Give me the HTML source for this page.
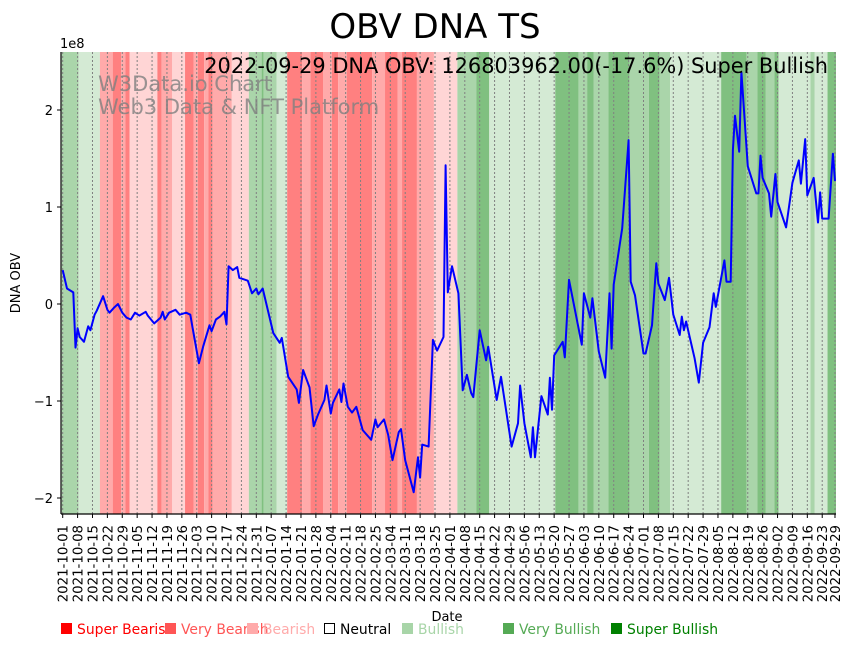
<!DOCTYPE html>
<html><head><meta charset="utf-8"><style>
html,body{margin:0;padding:0;background:#fff;}
svg{display:block;font-family:"DejaVu Sans","Liberation Sans",sans-serif;}
</style></head><body>
<svg id="chart" width="854" height="646" viewBox="0 0 854 646">
<g id="bands"></g>
<g id="grid"></g>
<text x="98" y="91" font-size="21" fill="#808080" fill-opacity="0.8">W3Data.io Chart</text>
<text x="98" y="114" font-size="21" fill="#808080" fill-opacity="0.8">Web3 Data &amp; NFT Platform</text>
<g id="series"></g>
<g id="axes"></g>
<text x="435" y="38" font-size="34" text-anchor="middle" fill="#000">OBV DNA TS</text>
<text x="828" y="73" font-size="20.9" text-anchor="end" fill="#000">2022-09-29 DNA OBV: 126803962.00(-17.6%) Super Bullish</text>
<text x="60" y="48" font-size="13" fill="#000">1e8</text>
<text transform="translate(20,283) rotate(-90)" font-size="13" text-anchor="middle" fill="#000">DNA OBV</text>
<text x="447" y="621" font-size="13" text-anchor="middle" fill="#000">Date</text>
<g id="legend" font-size="13.9"></g>
</svg>
<script>
// ---- data ----
const startDate = "2021-10-01";
const obvDays = [0,2,5,6,7,8,10,12,13,15,16,19,21,22,24,26,28,30,32,34,36,39,40,43,46,47,48,50,53,55,58,60,61,64,66,69,70,72,74,76,77,78,80,82,83,87,89,91,92,94,99,102,103,106,110,111,113,116,118,120,123,124,126,127,130,131,132,134,136,138,141,145,147,148,151,153,155,158,159,161,165,167,168,169,172,174,176,179,180,181,183,186,188,190,192,193,196,199,200,204,206,211,214,215,217,220,221,222,225,228,229,230,231,235,236,238,244,245,248,249,252,255,257,258,259,263,266,267,269,273,274,277,279,280,283,285,287,290,291,292,293,297,299,301,304,306,307,311,312,314,315,316,318,319,322,326,327,328,329,332,333,335,336,340,343,346,347,349,350,353,355,356,357,360,362,363];
const obvValues = [0.35,0.16,0.12,-0.45,-0.25,-0.34,-0.39,-0.23,-0.27,-0.11,-0.07,0.08,-0.06,-0.09,-0.04,0.0,-0.09,-0.14,-0.16,-0.09,-0.12,-0.08,-0.12,-0.2,-0.14,-0.08,-0.16,-0.09,-0.06,-0.11,-0.09,-0.11,-0.24,-0.61,-0.44,-0.22,-0.28,-0.16,-0.13,-0.08,-0.21,0.39,0.35,0.38,0.27,0.24,0.11,0.16,0.10,0.16,-0.3,-0.4,-0.35,-0.75,-0.88,-1.02,-0.68,-0.86,-1.26,-1.14,-0.99,-0.84,-1.13,-1.02,-0.88,-1.01,-0.82,-1.06,-1.12,-1.06,-1.3,-1.4,-1.19,-1.27,-1.19,-1.35,-1.61,-1.32,-1.29,-1.61,-1.94,-1.58,-1.79,-1.45,-1.47,-0.37,-0.48,-0.34,1.43,0.12,0.39,0.11,-0.89,-0.73,-0.92,-0.96,-0.27,-0.58,-0.44,-0.99,-0.75,-1.47,-1.23,-0.84,-1.23,-1.58,-1.27,-1.58,-0.95,-1.14,-0.76,-1.09,-0.53,-0.39,-0.55,0.25,-0.42,0.11,-0.14,0.06,-0.49,-0.76,0.11,-0.46,0.2,0.78,1.69,0.23,0.09,-0.51,-0.51,-0.22,0.42,0.21,0.04,0.27,-0.11,-0.32,-0.13,-0.27,-0.18,-0.56,-0.81,-0.4,-0.24,0.11,-0.03,0.45,0.23,0.23,1.59,1.94,1.57,2.39,1.42,1.14,1.14,1.53,1.30,1.14,0.9,1.34,1.05,0.79,1.25,1.48,1.24,1.70,1.12,1.30,0.84,1.15,0.88,0.88,1.55,1.268];
const bandStarts = [0,8,18,24,28,30,32,45,47,52,58,62,64,67,69,71,80,88,94,95,101,106,113,117,123,127,130,134,146,152,158,160,167,175,186,195,201,232,243,247,250,257,267,276,281,286,310,322,327,331,335,337,352,354,360];
const bandLevels = [2,1,-2,-3,-2,-3,-1,-3,-2,-1,-3,-2,-3,-2,-3,-2,-1,2,3,2,1,-3,-2,-3,-2,-3,-2,-3,-2,-3,-2,-3,-2,-1,2,3,1,3,2,3,2,3,2,3,2,1,3,2,3,2,3,1,2,1,3];
const yTicks = [-2,-1,0,1,2];
const legendLabels = ["Super Bearish","Very Bearish","Bearish","Neutral","Bullish","Very Bullish","Super Bullish"];
const totalDays = 364;

// ---- scales ----
const NS = "http://www.w3.org/2000/svg";
function xS(d){ return 62.7 + d * 2.1275; }
function yS(v){ return 304 - v * 97; }
const plotTop = 52, plotBottom = 514, plotLeft = 61, plotRight = 836;
const bandColor = {"-3":"#ff8080","-2":"#ffaaaa","-1":"#ffd5d5","0":"#ffffff","1":"#d4ead4","2":"#aad5aa","3":"#80c080"};
function mk(tag, attrs, parent){ const e=document.createElementNS(NS,tag); for(const k in attrs) e.setAttribute(k,attrs[k]); parent.appendChild(e); return e; }
function fmtDate(d){ const t=new Date(startDate+"T00:00:00Z"); t.setUTCDate(t.getUTCDate()+d); return t.toISOString().slice(0,10); }

// bands
const gB = document.getElementById("bands");
for(let i=0;i<bandStarts.length;i++){
  const s = bandStarts[i], e = i+1<bandStarts.length ? bandStarts[i+1] : totalDays;
  const x0 = Math.max(plotLeft, xS(s-0.5)), x1 = Math.min(plotRight, xS(e-0.5));
  const r = mk("rect",{x:x0,y:plotTop,width:x1-x0,height:plotBottom-plotTop,fill:bandColor[bandLevels[i]]},gB);
  
  
}

// x ticks
const tickDays = [];
for(let d=0; d<totalDays; d+=7) tickDays.push(d);
tickDays.push(363);
const gG = document.getElementById("grid");
const gA = document.getElementById("axes");
tickDays.forEach(d=>{
  const x = xS(d);
  const g = mk("line",{x1:x,x2:x,y1:plotTop,y2:plotBottom,stroke:"#808080","stroke-width":1,"stroke-dasharray":"2,2"},gG);
  
  
  const t = mk("line",{x1:x,x2:x,y1:plotBottom,y2:plotBottom+4,stroke:"#000","stroke-width":1},gA);
  
  
  const lb = mk("text",{transform:`translate(${x+5},${plotBottom+11}) rotate(-90)`,"text-anchor":"end","font-size":13.3,fill:"#000"},gA);
  lb.textContent = fmtDate(d);
  
  
});

// y ticks
yTicks.forEach(v=>{
  const y = yS(v);
  const t = mk("line",{x1:plotLeft-4,x2:plotLeft,y1:y,y2:y,stroke:"#000","stroke-width":1},gA);
  
  
  const lb = mk("text",{x:plotLeft-8,y:y+5,"text-anchor":"end","font-size":13,fill:"#000"},gA);
  lb.textContent = (v<0?"\u2212"+(-v):String(v));
  
  
});
const sp1 = mk("line",{x1:plotLeft,x2:plotLeft,y1:plotTop,y2:plotBottom,stroke:"#000","stroke-width":1.2},gA);


const sp2 = mk("line",{x1:plotLeft,x2:plotRight,y1:plotBottom,y2:plotBottom,stroke:"#000","stroke-width":1.2},gA);



// series
const pts = obvDays.map((d,i)=>xS(d).toFixed(1)+","+yS(obvValues[i]).toFixed(1)).join(" ");
const line = mk("polyline",{points:pts,fill:"none",stroke:"#0000ff","stroke-width":2,"stroke-linejoin":"round"},document.getElementById("series"));



// legend
const legColors = ["#ff0000","#ff5555","#ffaaaa","none","#a8d5a8","#55aa55","#008000"];
const legTextColors = ["#ff0000","#ff5555","#ffaaaa","#000000","#a8d5a8","#55aa55","#008000"];
const legX = [61,165,247,324,402,503,611];
const gL = document.getElementById("legend");
legendLabels.forEach((lab,i)=>{
  const g = mk("g",{},gL);
  
  
  if(legColors[i]==="none"){
    mk("rect",{x:legX[i]+0.5,y:623.5,width:10,height:10,fill:"none",stroke:"#000","stroke-width":1},g);
  } else {
    mk("rect",{x:legX[i],y:623,width:11,height:11,fill:legColors[i]},g);
  }
  const t = mk("text",{x:legX[i]+16,y:634,fill:legTextColors[i]},g);
  t.textContent = lab;
});
</script>
</body></html>
